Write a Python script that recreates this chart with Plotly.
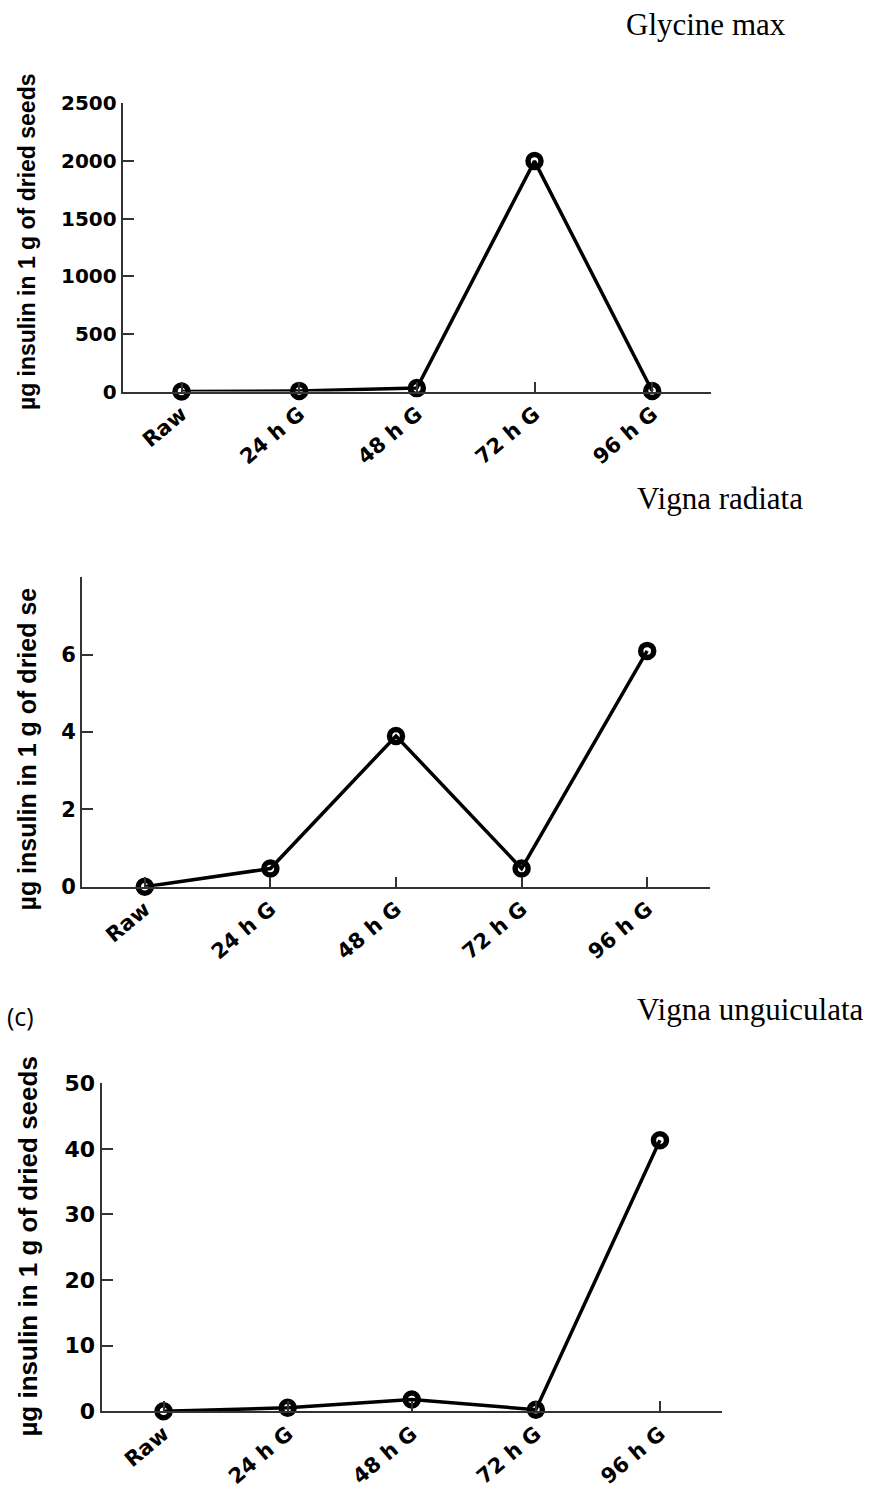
import plotly.graph_objects as go

W, H = 869, 1503

categories = ["Raw", "24 h G", "48 h G", "72 h G", "96 h G"]
glycine_max = [0, 6, 30, 2000, 5]
vigna_radiata = [0, 0.47, 3.9, 0.47, 6.1]
vigna_unguiculata = [0, 0.55, 1.8, 0.25, 41.3]

species_labels = ["Glycine max", "Vigna radiata", "Vigna unguiculata"]
ytitle_full = "µg insulin in 1 g of dried seeds"
ytitle_cut = "µg insulin in 1 g of dried se"

y1_ticks = [0, 500, 1000, 1500, 2000, 2500]
y2_ticks = [0, 2, 4, 6, 8]
y2_text = ["0", "2", "4", "6", ""]
y3_ticks = [0, 10, 20, 30, 40, 50]


def px(x):
    return x / W


def py(y):
    return 1 - y / H


panels = [
    (glycine_max, (122.7, 711), (93, 386), [0, 2500], y1_ticks, [str(t) for t in y1_ticks], 20),
    (vigna_radiata, (82, 710), (575, 889.5), [0, 8], y2_ticks, y2_text, 21),
    (vigna_unguiculata, (101.5, 722), (1089.3, 1423), [0, 50], y3_ticks, [str(t) for t in y3_ticks], 22),
]

fig = go.Figure()
axis_color = "#333333"
tick_font = "DejaVu Sans"

for i, (vals, xd, yd, yr, tv, tt, fs) in enumerate(panels, start=1):
    sfx = "" if i == 1 else str(i)
    fig.add_trace(go.Scatter(
        x=categories, y=vals, mode="lines+markers",
        xaxis="x" + sfx, yaxis="y" + sfx,
        line=dict(color="black", width=3.5),
        marker=dict(symbol="circle-open", size=13, color="black",
                    line=dict(color="black", width=5.5)),
        cliponaxis=False, showlegend=False,
    ))
    fig.layout["xaxis" + sfx] = dict(
        domain=[px(xd[0]), px(xd[1])], anchor="y" + sfx,
        type="category", range=[-0.5, 4.5],
        showline=True, linecolor=axis_color, linewidth=2,
        ticks="inside", ticklen=10, tickwidth=2, tickcolor=axis_color,
        tickangle=-40, showgrid=False, zeroline=False,
        ticklabelstandoff=0,
        tickfont=dict(family=tick_font, size=21, color="black", weight="bold"),
    )
    fig.layout["yaxis" + sfx] = dict(
        domain=[py(yd[1]), py(yd[0])], anchor="x" + sfx,
        range=yr, tickvals=tv, ticktext=tt,
        showline=True, linecolor=axis_color, linewidth=2,
        ticks="inside", ticklen=11, tickwidth=2, tickcolor=axis_color,
        showgrid=False, zeroline=False,
        tickfont=dict(family=tick_font, size=fs, color="black", weight="bold"),
    )

annotations = []
for text, xc, yc, fs in [(ytitle_full, 27, 234, 23), (ytitle_cut, 27, 750, 25), (ytitle_full, 28, 1255.5, 26)]:
    annotations.append(dict(
        text=text, textangle=-90, showarrow=False,
        xref="paper", yref="paper", x=px(xc), y=py(yc),
        xanchor="center", yanchor="middle",
        font=dict(family="Liberation Sans, Arial", size=fs, color="black", weight="bold"),
    ))
for text, xl, yb in zip(species_labels, [625, 636, 636], [32, 514, 1033]):
    annotations.append(dict(
        text=text, showarrow=False, xref="paper", yref="paper",
        x=px(xl), y=py(yb), xanchor="left", yanchor="bottom", borderpad=0,
        font=dict(family="Liberation Serif, Times New Roman", size=31, color="black"),
    ))
annotations.append(dict(
    text="(c)", showarrow=False, xref="paper", yref="paper",
    x=px(5), y=py(1021), xanchor="left", yanchor="middle",
    font=dict(family="Open Sans", size=25, color="black"),
))

fig.update_layout(
    width=W, height=H, autosize=False,
    margin=dict(l=0, r=0, t=0, b=0),
    paper_bgcolor="white", plot_bgcolor="white",
    annotations=annotations,
)

fig.write_html("out.html")
